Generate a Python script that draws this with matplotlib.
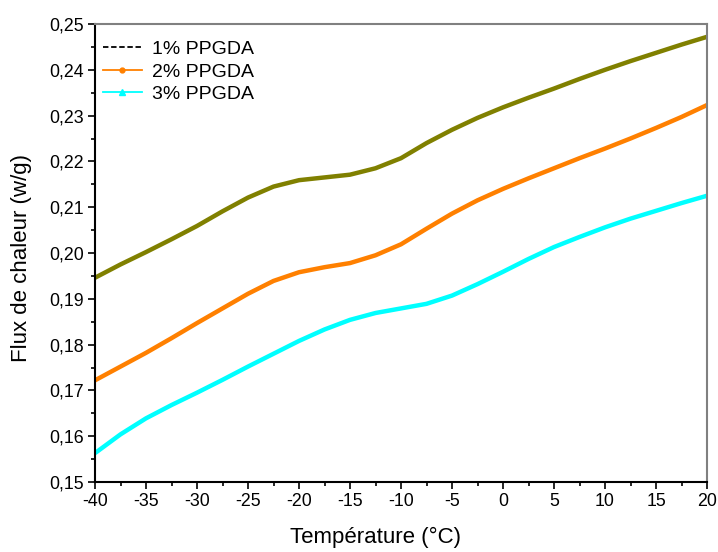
import matplotlib
matplotlib.use("Agg")
import matplotlib.pyplot as plt
from matplotlib.lines import Line2D
from matplotlib.ticker import MultipleLocator, FuncFormatter

plt.rcParams['font.family'] = ['Liberation Sans', 'DejaVu Sans']

# Temperature (°C)
temperature = [-40, -37.5, -35, -32.5, -30, -27.5, -25, -22.5, -20, -17.5, -15, -12.5,
               -10, -7.5, -5, -2.5, 0, 2.5, 5, 7.5, 10, 12.5, 15, 17.5, 20]

# Heat flow (w/g) for each PPGDA content
flux_1pct = [0.1946, 0.1975, 0.2002, 0.2030, 0.2059, 0.2091, 0.2121, 0.2145, 0.2159,
             0.2165, 0.2171, 0.2185, 0.2207, 0.2240, 0.2269, 0.2295, 0.2318, 0.2339,
             0.2359, 0.2380, 0.2400, 0.2419, 0.2437, 0.2455, 0.2472]
flux_2pct = [0.1722, 0.1752, 0.1782, 0.1814, 0.1847, 0.1879, 0.1911, 0.1939, 0.1958,
             0.1969, 0.1978, 0.1995, 0.2019, 0.2053, 0.2086, 0.2115, 0.2140, 0.2163,
             0.2185, 0.2207, 0.2228, 0.2250, 0.2273, 0.2297, 0.2323]
flux_3pct = [0.1563, 0.1604, 0.1639, 0.1668, 0.1695, 0.1723, 0.1752, 0.1780, 0.1808,
             0.1833, 0.1854, 0.1869, 0.1879, 0.1889, 0.1907, 0.1932, 0.1959, 0.1987,
             0.2013, 0.2035, 0.2056, 0.2075, 0.2092, 0.2109, 0.2125]

series_labels = ["1% PPGDA", "2% PPGDA", "3% PPGDA"]

fig = plt.figure(figsize=(7.18, 5.52), dpi=100)
ax = fig.add_axes([95 / 718, 1 - 482 / 552, 612 / 718, 458 / 552])

for values, colour in ((flux_1pct, "#808000"), (flux_2pct, "#FF8000"), (flux_3pct, "#00FFFF")):
    ax.plot(temperature, values, color=colour, lw=3.2, solid_joinstyle="round",
            solid_capstyle="butt")

ax.set_xlim(-40, 20)
ax.set_ylim(0.15, 0.25)
ax.xaxis.set_major_locator(MultipleLocator(5))
ax.xaxis.set_minor_locator(MultipleLocator(2.5))
ax.yaxis.set_major_locator(MultipleLocator(0.01))
ax.yaxis.set_minor_locator(MultipleLocator(0.005))
ax.xaxis.set_major_formatter(FuncFormatter(lambda v, p: f"{v:.0f}".replace("\u2212", "-")))
ax.yaxis.set_major_formatter(FuncFormatter(lambda v, p: f"{v:.2f}".replace(".", ",")))

ax.tick_params(which="both", direction="out", top=False, right=False,
               width=1.2, colors="black", labelsize=12.8)
ax.tick_params(which="major", length=5, pad=3)
ax.tick_params(which="minor", length=3)

for side in ("left", "bottom"):
    ax.spines[side].set_color("black")
    ax.spines[side].set_linewidth(1.5)
for side in ("top", "right"):
    ax.spines[side].set_color("#808080")
    ax.spines[side].set_linewidth(1.5)

ax.set_xlabel("Température (°C)", fontsize=16, va="center")
ax.xaxis.set_label_coords((375 - 95) / 612, (15 - 70) / 458)
ax.set_ylabel("Flux de chaleur (w/g)", fontsize=16, va="center")
ax.yaxis.set_label_coords((22 - 95) / 612, (294 - 70) / 458)

handles = [
    Line2D([], [], color="black", lw=1.3, linestyle=(0, (3, 1.5))),
    Line2D([], [], color="#FF8000", lw=1.3, marker="o", markersize=3.5),
    Line2D([], [], color="#00FFFF", lw=1.3, marker="^", markersize=4),
]
ax.legend(handles, series_labels, loc="upper left", frameon=False, fontsize=14,
          handlelength=2.0, handletextpad=0.55, labelspacing=0.25,
          borderaxespad=0.0, bbox_to_anchor=(0.0, 0.981))

fig.savefig("out.png", dpi=100)
